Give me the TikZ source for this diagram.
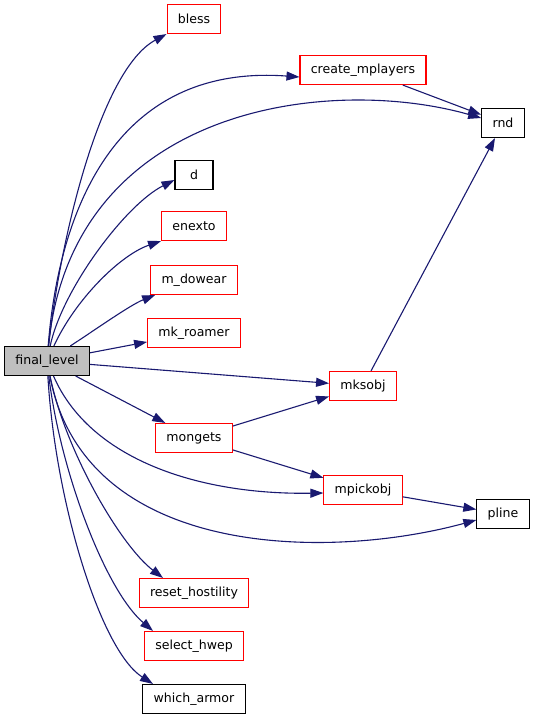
\documentclass[tikz,border=0pt]{standalone}
\usepackage{fontspec}
\setmainfont{DejaVu Sans}
\usetikzlibrary{arrows.meta}
\definecolor{calledge}{RGB}{25,25,112}
\definecolor{rootfill}{RGB}{191,191,191}
\tikzset{fn/.style={draw=red,fill=white,line width=1.1bp,minimum height=29bp,minimum width=38bp,
  inner xsep=10.8bp,font=\fontsize{12.6}{15}\selectfont},
 plain/.style={fn,draw=black},
 root/.style={fn,draw=black,fill=rootfill},
 call/.style={-{Triangle[length=13bp,width=9bp]},calledge,line width=1.1bp}}
\begin{document}
\begin{tikzpicture}[x=1bp,y=-1bp]
\useasboundingbox (0,0) rectangle (536,720);
\node[root] (final) at (47,361) {final\_level};
\node[fn] (bless) at (194,19) {bless};
\node[fn] (cmpl) at (363,70) {create\_mplayers};
\node[plain] (rnd) at (503,123) {rnd};
\node[plain] (d) at (194,175) {d};
\node[fn] (enexto) at (194,226) {enexto};
\node[fn] (dowear) at (194,280) {m\_dowear};
\node[fn] (roamer) at (194,333) {mk\_roamer};
\node[fn] (mksobj) at (363,386) {mksobj};
\node[fn] (mongets) at (194,438) {mongets};
\node[fn] (mpick) at (363,490) {mpickobj};
\node[plain] (pline) at (503,514) {pline};
\node[fn] (hostil) at (194,593) {reset\_hostility};
\node[fn] (hwep) at (194,646) {select\_hwep};
\node[plain] (armor) at (194,699) {which\_armor};
\draw[call] (final) .. controls (60,240) and (100,70) .. (bless.south west);
\draw[call] (final) .. controls (58,220) and (110,63) .. ([yshift=-7bp]cmpl.west);
\draw[call] (final) .. controls (72,105) and (330,75) .. ([yshift=5bp]rnd.west);
\draw[call] (final) .. controls (62,290) and (125,205) .. ([yshift=-5bp]d.west);
\draw[call] (final) .. controls (75,300) and (120,255) .. (enexto.south west);
\draw[call] (final) .. controls (95,330) and (130,305) .. ([xshift=5bp]dowear.south west);
\draw[call] (final) -- (roamer);
\draw[call] (final) -- (mksobj);
\draw[call] (final) -- (mongets);
\draw[call] (final) .. controls (90,460) and (200,495) .. ([yshift=-3bp]mpick.west);
\draw[call] (final) .. controls (85,560) and (330,560) .. ([yshift=-6bp]pline.west);
\draw[call] (final) .. controls (65,450) and (120,545) .. ([xshift=-31bp]hostil.north);
\draw[call] (final) .. controls (60,470) and (105,590) .. ([xshift=-41bp]hwep.north);
\draw[call] (final) .. controls (55,500) and (100,650) .. ([xshift=-41bp]armor.north);
\draw[call] (cmpl) -- (rnd);
\draw[call] (mksobj) -- (rnd);
\draw[call] (mongets) -- (mksobj);
\draw[call] (mongets) -- (mpick);
\draw[call] (mpick) -- (pline);
\end{tikzpicture}
\end{document}
